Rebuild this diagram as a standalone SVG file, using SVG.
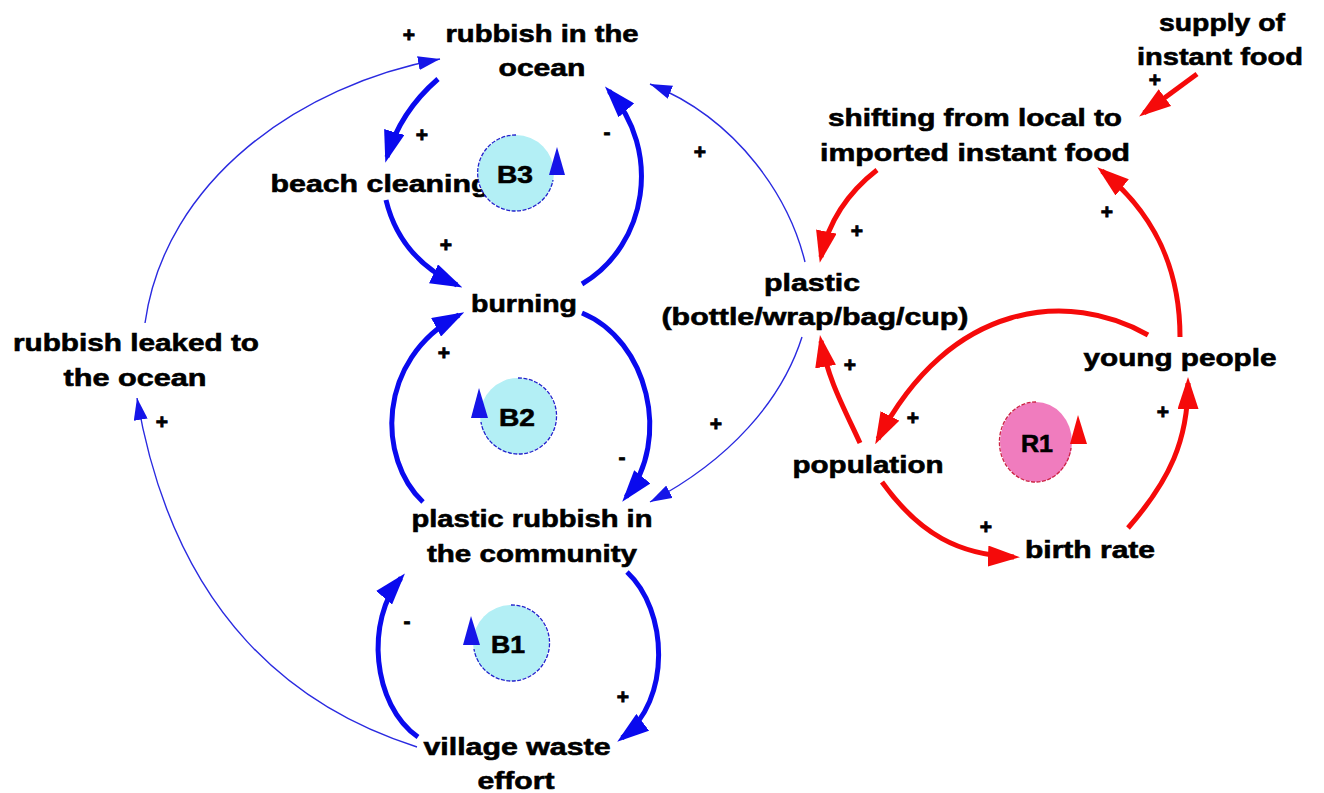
<svg xmlns="http://www.w3.org/2000/svg" width="1324" height="793" viewBox="0 0 1324 793">
<style>
.t{font-family:"Liberation Sans",Arial,sans-serif;font-weight:bold;font-size:24px;fill:#000;stroke:#000;stroke-width:0.6;text-anchor:middle}
.p{font-family:"Liberation Sans",Arial,sans-serif;font-weight:bold;font-size:21px;fill:#000;stroke:#000;stroke-width:0.8;text-anchor:middle}
.bk{stroke:#0a0aee;stroke-width:5;fill:none;marker-end:url(#hB)}
.bn{stroke:#2a2ae0;stroke-width:1.4;fill:none;marker-end:url(#hb)}
.rk{stroke:#f50a0a;stroke-width:5;fill:none;marker-end:url(#hR)}
.cy{fill:#b3eff5}
.pk{fill:#f07cbe}
.lb{stroke:#2222cc;stroke-width:1.3;fill:none;stroke-dasharray:4 1.5}
.lr{stroke:#cc2244;stroke-width:1.3;fill:none;stroke-dasharray:4 1.5}
</style>
<defs>
<marker id="hB" markerUnits="userSpaceOnUse" markerWidth="32" markerHeight="21" viewBox="0 0 32 21" refX="26" refY="10.5" orient="auto"><path d="M0,0 L32,10.5 L0,21 z" fill="#0a0aee"/></marker>
<marker id="hb" markerUnits="userSpaceOnUse" markerWidth="22" markerHeight="14" viewBox="0 0 22 14" refX="22" refY="7" orient="auto"><path d="M0,0 L22,7 L0,14 z" fill="#1515e8"/></marker>
<marker id="hR" markerUnits="userSpaceOnUse" markerWidth="32" markerHeight="21" viewBox="0 0 32 21" refX="26" refY="10.5" orient="auto"><path d="M0,0 L32,10.5 L0,21 z" fill="#f50a0a"/></marker>
</defs>
<rect width="1324" height="793" fill="#fff"/>
<g id="connectors">
<path class="bk" d="M438,79 Q400,112 387,157"/>
<path class="bk" d="M386,200 Q400,258 457,285"/>
<path class="bk" d="M582,284 C648,245 662,150 609,91"/>
<path class="bk" d="M423,502 C378,460 375,360 459,315"/>
<path class="bk" d="M582,313 C648,340 672,440 626,497"/>
<path class="bk" d="M627,572 C668,610 672,700 622,738"/>
<path class="bk" d="M418,737 C372,705 365,620 401,578"/>
<path class="bn" d="M417,747 C300,710 175,620 137,398"/>
<path class="bn" d="M145,323 C165,180 300,85 440,59"/>
<path class="bn" d="M805,262 C790,200 740,120 650,84"/>
<path class="bn" d="M802,337 C782,400 730,460 650,502"/>
<path class="rk" d="M1197,74 L1144,113"/>
<path class="rk" d="M877,170 Q832,205 821,257"/>
<path class="rk" d="M1180,337 C1180,262 1150,210 1102,171"/>
<path class="rk" d="M1148,335 C1070,290 950,300 878,439"/>
<path class="rk" d="M860,443 C845,410 828,380 821,341"/>
<path class="rk" d="M882,482 C920,535 960,555 1014,557"/>
<path class="rk" d="M1128,528 C1170,480 1188,440 1188,383"/>
<g id="polarities">
<text class="p" x="409" y="42">+</text>
<text class="p" x="422" y="142">+</text>
<text class="p" x="607" y="139">-</text>
<text class="p" x="700" y="159">+</text>
<text class="p" x="446" y="252">+</text>
<text class="p" x="444" y="360">+</text>
<text class="p" x="622" y="464">-</text>
<text class="p" x="716" y="431">+</text>
<text class="p" x="162" y="429">+</text>
<text class="p" x="407" y="628">-</text>
<text class="p" x="623" y="704">+</text>
<text class="p" x="1155" y="87">+</text>
<text class="p" x="857" y="238">+</text>
<text class="p" x="1107" y="219">+</text>
<text class="p" x="850" y="372">+</text>
<text class="p" x="913" y="425">+</text>
<text class="p" x="1163" y="419">+</text>
<text class="p" x="986" y="534">+</text>
</g>
</g>
<g id="n-rubbish-ocean"><text class="t" x="542" y="42" textLength="193" lengthAdjust="spacingAndGlyphs">rubbish in the</text><text class="t" x="542" y="76" textLength="87" lengthAdjust="spacingAndGlyphs">ocean</text></g>
<g id="n-beach-cleaning"><text class="t" x="380" y="192" textLength="219" lengthAdjust="spacingAndGlyphs">beach cleaning</text></g>
<g id="n-burning"><text class="t" x="524" y="312" textLength="106" lengthAdjust="spacingAndGlyphs">burning</text></g>
<g id="n-plastic-rubbish"><text class="t" x="532" y="527" textLength="241" lengthAdjust="spacingAndGlyphs">plastic rubbish in</text><text class="t" x="532" y="562" textLength="210" lengthAdjust="spacingAndGlyphs">the community</text></g>
<g id="n-village-waste"><text class="t" x="517" y="755" textLength="187" lengthAdjust="spacingAndGlyphs">village waste</text><text class="t" x="516" y="789" textLength="77" lengthAdjust="spacingAndGlyphs">effort</text></g>
<g id="n-rubbish-leaked"><text class="t" x="136" y="351" textLength="246" lengthAdjust="spacingAndGlyphs">rubbish leaked to</text><text class="t" x="135" y="386" textLength="143" lengthAdjust="spacingAndGlyphs">the ocean</text></g>
<g id="n-plastic"><text class="t" x="812" y="291" textLength="96" lengthAdjust="spacingAndGlyphs">plastic</text><text class="t" x="815" y="325" textLength="307" lengthAdjust="spacingAndGlyphs">(bottle/wrap/bag/cup)</text></g>
<g id="n-shifting"><text class="t" x="975" y="126" textLength="294" lengthAdjust="spacingAndGlyphs">shifting from local to</text><text class="t" x="975" y="161" textLength="310" lengthAdjust="spacingAndGlyphs">imported instant food</text></g>
<g id="n-supply"><text class="t" x="1222" y="31" textLength="126" lengthAdjust="spacingAndGlyphs">supply of</text><text class="t" x="1220" y="65" textLength="166" lengthAdjust="spacingAndGlyphs">instant food</text></g>
<g id="n-young-people"><text class="t" x="1180" y="366" textLength="193" lengthAdjust="spacingAndGlyphs">young people</text></g>
<g id="n-population"><text class="t" x="868" y="473" textLength="151" lengthAdjust="spacingAndGlyphs">population</text></g>
<g id="n-birth-rate"><text class="t" x="1090" y="558" textLength="130" lengthAdjust="spacingAndGlyphs">birth rate</text></g>
<g id="loop-B3"><circle class="cy" cx="516" cy="173" r="38"/><path class="lb" d="M516,135 A38,38 0 1 0 553,180"/><polygon points="557,147 549,175 565,175" fill="#1515e8"/><text class="t" x="515" y="183" textLength="36" lengthAdjust="spacingAndGlyphs">B3</text></g>
<g id="loop-B2"><circle class="cy" cx="518" cy="416" r="38"/><path class="lb" d="M518,378 A38,38 0 1 1 481,422"/><polygon points="479,388 471,418 488,418" fill="#1515e8"/><text class="t" x="517" y="426" textLength="36" lengthAdjust="spacingAndGlyphs">B2</text></g>
<g id="loop-B1"><circle class="cy" cx="511" cy="643" r="38"/><path class="lb" d="M511,605 A38,38 0 1 1 474,649"/><polygon points="471,616 463,645 480,645" fill="#1515e8"/><text class="t" x="508" y="653" textLength="34" lengthAdjust="spacingAndGlyphs">B1</text></g>
<g id="loop-R1"><ellipse class="pk" cx="1036" cy="442" rx="36" ry="40"/><path class="lr" d="M1036,402 A36,40 0 1 0 1071,448"/><polygon points="1078,415 1070,444 1087,444" fill="#f50a0a"/><text class="t" x="1037" y="452" textLength="32" lengthAdjust="spacingAndGlyphs">R1</text></g>
</svg>
